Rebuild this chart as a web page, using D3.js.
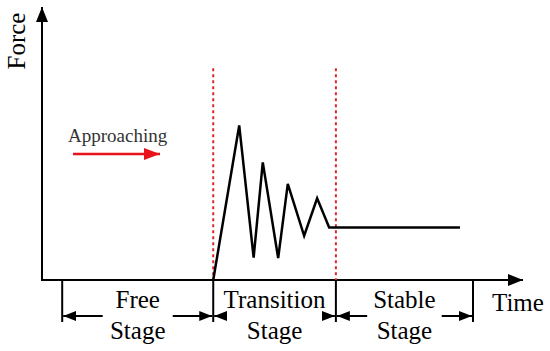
<!DOCTYPE html>
<html>
<head>
<meta charset="utf-8">
<style>
  body { margin: 0; background: #fff; }
  text { font-family: "Liberation Serif", "Times New Roman", serif; }
</style>
</head>
<body>
<svg id="chart" width="550" height="351"></svg>
<script src="https://d3js.org/d3.v7.min.js"></script>
<script>

// force response over time (arbitrary units)
var times  = [35.6, 41.0, 44.0, 45.9, 49.1, 51.1, 54.5, 57.2, 59.7, 86.9];
var forces = [0,    56.6, 8.2,  43.1, 8.0,  35.2, 16.2, 29.9, 19.2, 19.2];

// stage boundaries on the time axis
var stageEdges  = [4.2, 35.6, 61.1, 89.6];
var stageNames  = [["Free", "Stage"], ["Transition", "Stage"], ["Stable", "Stage"]];
var dividers    = [35.6, 61.1];
var dividerTop  = 77.6;

var svg = d3.select("#chart");

var x = d3.scaleLinear().domain([0, 100]).range([42, 523]);
var y = d3.scaleLinear().domain([0, 100]).range([280, 7]);

var defs = svg.append("defs");
function head(id, color, w, h) {
  defs.append("marker")
      .attr("id", id)
      .attr("viewBox", "0 0 " + w + " " + h)
      .attr("refX", w).attr("refY", h / 2)
      .attr("markerWidth", w).attr("markerHeight", h)
      .attr("markerUnits", "userSpaceOnUse")
      .attr("orient", "auto-start-reverse")
    .append("path")
      .attr("d", "M0,0L" + w + "," + h / 2 + "L0," + h + "Z")
      .attr("fill", color);
}
head("axisHead", "#000", 15, 12);
head("dimHead", "#000", 13, 10);
head("redHead", "#e8131b", 16, 12);

// axes (arrows)
svg.append("line")
    .attr("x1", x(0)).attr("y1", y(0)).attr("x2", x(0)).attr("y2", y(100))
    .attr("stroke", "#000").attr("stroke-width", 2)
    .attr("marker-end", "url(#axisHead)");
svg.append("line")
    .attr("x1", x(0) - 1).attr("y1", y(0)).attr("x2", x(100)).attr("y2", y(0))
    .attr("stroke", "#000").attr("stroke-width", 2)
    .attr("marker-end", "url(#axisHead)");

svg.append("text")
    .attr("transform", "translate(" + 25 + "," + 41 + ") rotate(-90)")
    .attr("text-anchor", "middle")
    .attr("font-size", 25)
    .text("Force");

svg.append("text")
    .attr("x", 492).attr("y", 311)
    .attr("font-size", 25)
    .text("Time");

// red dashed stage dividers
svg.selectAll(".divider")
  .data(dividers)
  .enter().append("line")
    .attr("class", "divider")
    .attr("x1", function(d) { return x(d); }).attr("x2", function(d) { return x(d); })
    .attr("y1", y(dividerTop)).attr("y2", y(0))
    .attr("stroke", "#e0262b").attr("stroke-width", 2)
    .attr("stroke-dasharray", "3,3");

// force curve
var pts = times.map(function(t, i) { return [t, forces[i]]; });
svg.append("path")
    .datum(pts)
    .attr("fill", "none")
    .attr("stroke", "#000")
    .attr("stroke-width", 2.5)
    .attr("stroke-linejoin", "miter")
    .attr("d", d3.line().x(function(d) { return x(d[0]); }).y(function(d) { return y(d[1]); }));

// approaching label + red arrow
svg.append("text")
    .attr("x", 68).attr("y", 142)
    .attr("font-size", 19)
    .attr("fill", "#333")
    .text("Approaching");
svg.append("line")
    .attr("x1", 73).attr("y1", 154).attr("x2", 160).attr("y2", 154)
    .attr("stroke", "#e8131b").attr("stroke-width", 2.5)
    .attr("marker-end", "url(#redHead)");

// stage dimension ticks
svg.selectAll(".edge")
  .data(stageEdges)
  .enter().append("line")
    .attr("class", "edge")
    .attr("x1", function(d) { return x(d); }).attr("x2", function(d) { return x(d); })
    .attr("y1", y(0)).attr("y2", 322)
    .attr("stroke", "#000").attr("stroke-width", 2);

var arrowY = 316;
stageNames.forEach(function(name, i) {
  var a = x(stageEdges[i]), b = x(stageEdges[i + 1]), mid = (a + b) / 2;
  var label = svg.append("text")
      .attr("x", mid).attr("y", 308)
      .attr("text-anchor", "middle")
      .attr("font-size", 25)
      .text(name[0]);
  svg.append("text")
      .attr("x", mid).attr("y", 339)
      .attr("text-anchor", "middle")
      .attr("font-size", 25)
      .text(name[1]);
  var w = Math.max(label.node().getComputedTextLength(), 58) / 2 + 6;
  svg.append("line")
      .attr("x1", mid - w).attr("y1", arrowY).attr("x2", a + 1).attr("y2", arrowY)
      .attr("stroke", "#000").attr("stroke-width", 2)
      .attr("marker-end", "url(#dimHead)");
  svg.append("line")
      .attr("x1", mid + w).attr("y1", arrowY).attr("x2", b - 1).attr("y2", arrowY)
      .attr("stroke", "#000").attr("stroke-width", 2)
      .attr("marker-end", "url(#dimHead)");
});

</script>
</body>
</html>
